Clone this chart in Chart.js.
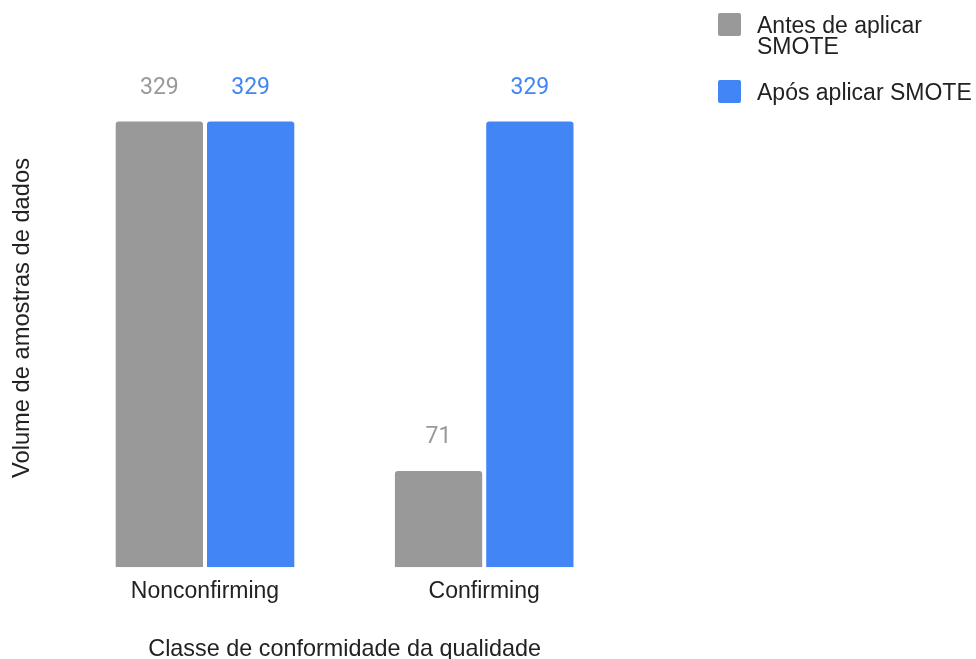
<!DOCTYPE html>
<html>
<head>
<meta charset="utf-8">
<title>Volume de amostras por classe</title>
<script src="https://cdn.jsdelivr.net/npm/chart.js@4.4.1/dist/chart.umd.min.js"></script>
<style>
  html, body { margin: 0; padding: 0; background: #ffffff; }
  #wrap { width: 976px; height: 659px; position: relative; }
</style>
</head>
<body>
<div id="wrap"><canvas id="chart"></canvas></div>
<script>
// Categories and series
const categories = ['Nonconfirming', 'Confirming'];
const seriesNames = ['Antes de aplicar SMOTE', 'Após aplicar SMOTE'];
const legendLines = [['Antes de aplicar', 'SMOTE'], ['Após aplicar SMOTE']];
const beforeSmote = [329, 71];
const afterSmote = [329, 329];
const seriesColors = ['#999999', '#4285F4'];
const xTitle = 'Classe de conformidade da qualidade';
const yTitle = 'Volume de amostras de dados';
const yAxisMax = 368;

const textFamily = "'Liberation Sans', Arial, sans-serif";
const textColor = '#222222';

// Value written above each bar, in the bar's own colour
const valueLabels = {
  id: 'valueLabels',
  afterDatasetsDraw(chart) {
    const ctx = chart.ctx;
    ctx.save();
    ctx.font = "23px Roboto, 'Liberation Sans', sans-serif";
    ctx.textAlign = 'center';
    ctx.textBaseline = 'alphabetic';
    chart.data.datasets.forEach((ds, i) => {
      const meta = chart.getDatasetMeta(i);
      meta.data.forEach((bar, j) => {
        ctx.fillStyle = ds.backgroundColor;
        ctx.fillText(String(ds.data[j]), bar.x, bar.y - 28);
      });
    });
    ctx.restore();
  }
};

// Legend column on the right with wrapped entries
const sideLegend = {
  id: 'sideLegend',
  afterDraw(chart) {
    const ctx = chart.ctx;
    const boxX = 718, boxSize = 23, textX = 757, lineH = 21, itemGap = 25;
    let top = 13;
    ctx.save();
    ctx.font = '23px ' + textFamily;
    ctx.textAlign = 'left';
    ctx.textBaseline = 'alphabetic';
    chart.data.datasets.forEach((ds, i) => {
      ctx.fillStyle = ds.backgroundColor;
      ctx.beginPath();
      ctx.roundRect(boxX, top, boxSize, boxSize, 2);
      ctx.fill();
      ctx.fillStyle = textColor;
      const lines = legendLines[i];
      lines.forEach((line, k) => {
        ctx.fillText(line, textX, top + 20.3 + k * lineH);
      });
      top += lines.length * lineH + itemGap;
    });
    ctx.restore();
  }
};

new Chart(document.getElementById('chart'), {
  type: 'bar',
  data: {
    labels: categories,
    datasets: [
      { label: seriesNames[0], data: beforeSmote, backgroundColor: seriesColors[0] },
      { label: seriesNames[1], data: afterSmote, backgroundColor: seriesColors[1] }
    ]
  },
  options: {
    responsive: true,
    maintainAspectRatio: false,
    animation: false,
    datasets: {
      bar: {
        categoryPercentage: 0.654,
        barPercentage: 0.956,
        borderRadius: 3,
        borderSkipped: 'start'
      }
    },
    layout: { padding: { top: 68.7, right: 352.2, bottom: 0, left: 0 } },
    plugins: {
      legend: { display: false },
      tooltip: { enabled: false }
    },
    scales: {
      x: {
        grid: { display: false, drawTicks: false },
        border: { display: false },
        ticks: { color: textColor, font: { family: textFamily, size: 23 }, padding: 10.6 },
        title: {
          display: true,
          text: xTitle,
          color: textColor,
          font: { family: textFamily, size: 23.4, lineHeight: 0.8 },
          padding: { top: 0, bottom: 0 }
        },
        afterFit(scale) { scale.height = 91.7; }
      },
      y: {
        min: 0,
        max: yAxisMax,
        grid: { display: false, drawTicks: false },
        border: { display: false },
        ticks: { display: false },
        title: {
          display: true,
          text: yTitle,
          color: textColor,
          font: { family: textFamily, size: 23.7 },
          padding: { top: 8.3, bottom: 0 }
        },
        afterFit(scale) { scale.width = 65.4; }
      }
    }
  },
  plugins: [valueLabels, sideLegend]
});
</script>
</body>
</html>
